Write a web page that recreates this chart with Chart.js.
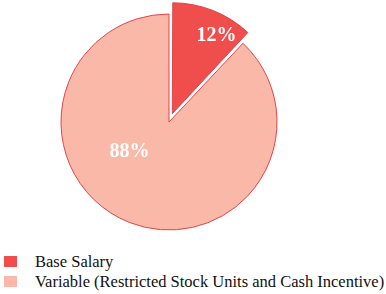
<!DOCTYPE html>
<html>
<head>
<meta charset="utf-8">
<script src="https://cdn.jsdelivr.net/npm/chart.js@4"></script>
<style>
  body { margin: 0; background: #fff; }
  #wrap { position: absolute; left: 0; top: 0; width: 386px; height: 245px; }
  #legend { position: absolute; left: 0; top: 252px; font-family: "Liberation Serif", "Times New Roman", serif; font-size: 16.5px; color: #111; }
  .item { position: relative; height: 20px; line-height: 20px; white-space: nowrap; }
  .box { position: absolute; left: 4px; top: 4px; width: 13px; height: 11px; }
  .txt { position: absolute; left: 35px; top: 0; }
</style>
</head>
<body>
<div id="wrap"><canvas id="canvas"></canvas></div>
<div id="legend"></div>
<script>
var categories = ['Base Salary', 'Variable (Restricted Stock Units and Cash Incentive)'];
var shares = [12, 88];
var pctLabels = ['12%', '88%'];
var colors = ['#f04d4d', '#f9b8a8'];

// label placement: fraction of radius, turn (degrees) from the slice bisector
var labelRadius = [0.83, 0.46];
var labelTurn = [8, 31];

var sliceLabels = {
  id: 'sliceLabels',
  afterDatasetsDraw: function(chart) {
    var ctx = chart.ctx;
    var meta = chart.getDatasetMeta(0);
    ctx.save();
    ctx.fillStyle = '#fff';
    ctx.font = 'bold 20px "Liberation Serif", "Times New Roman", serif';
    ctx.textAlign = 'center';
    ctx.textBaseline = 'middle';
    meta.data.forEach(function(arc, i) {
      var p = arc.getProps(['x', 'y', 'startAngle', 'endAngle', 'outerRadius']);
      var mid = (p.startAngle + p.endAngle) / 2;
      var off = (arc.options.offset || 0) / 4;
      var cx = p.x + Math.cos(mid) * off;
      var cy = p.y + Math.sin(mid) * off;
      var a = mid + labelTurn[i] * Math.PI / 180;
      var r = p.outerRadius * labelRadius[i];
      ctx.fillText(pctLabels[i], cx + Math.cos(a) * r, cy + Math.sin(a) * r);
    });
    ctx.restore();
  }
};

const ctx = document.getElementById('canvas');
const myChart = new Chart(ctx, {
  type: 'pie',
  data: {
    labels: categories,
    datasets: [{
      data: shares,
      backgroundColor: colors,
      borderColor: '#df4549',
      borderWidth: 1,
      offset: [36, 0]
    }]
  },
  options: {
    responsive: true,
    maintainAspectRatio: false,
    animation: false,
    radius: 108,
    layout: { padding: { left: 0, right: 48, top: 0, bottom: 1 } },
    plugins: {
      legend: { display: false },
      tooltip: { enabled: false }
    }
  },
  plugins: [sliceLabels]
});

var legend = document.getElementById('legend');
categories.forEach(function(name, i) {
  var row = document.createElement('div');
  row.className = 'item';
  row.innerHTML = '<span class="box" style="background:' + colors[i] + '"></span><span class="txt"></span>';
  row.querySelector('.txt').textContent = name;
  legend.appendChild(row);
});
</script>
</body>
</html>
